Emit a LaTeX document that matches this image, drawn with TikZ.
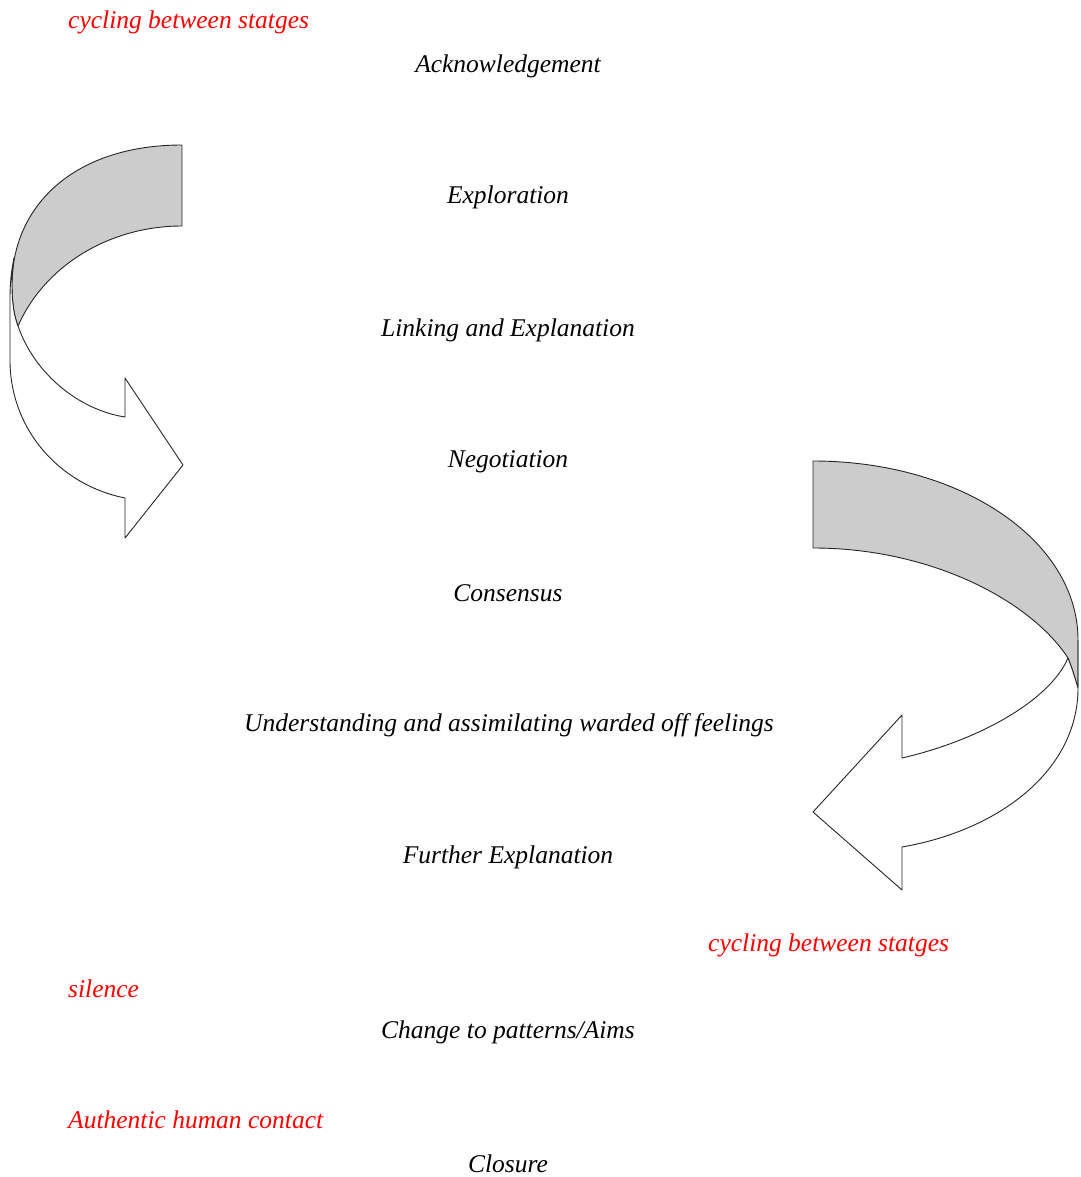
\documentclass[tikz,border=0pt]{standalone}
\usepackage{fontspec}
\setmainfont{Liberation Serif}
\usepackage{tikz}
\usetikzlibrary{positioning}

\begin{document}
\begin{tikzpicture}[x=1pt,y=-1pt,
  every node/.style={font=\fontsize{25.5}{29}\selectfont\itshape,inner sep=0pt},
  stage/.style={text=black},
  note/.style={text=red,anchor=west},
  band/.style={draw=black!85,line width=0.9pt,line join=round}]
\useasboundingbox (0,0) rectangle (1080,1177);
% stages
\node[stage] (ack) at (508,66) {Acknowledgement};
\node[stage] (exp) at (508,197) {Exploration};
\node[stage] (link) at (508,330) {Linking and Explanation};
\node[stage] (neg) at (508,462) {Negotiation};
\node[stage] (cons) at (508,593) {Consensus};
\node[stage] (und) at (509,725) {Understanding and assimilating warded off feelings};
\node[stage] (fexp) at (508,857) {Further Explanation};
\node[stage] (chg) at (508,1032) {Change to patterns/Aims};
\node[stage] (clos) at (508,1164) {Closure};
% red notes
\node[note] (cyc1) at (68,22) {cycling between statges};
\node[note] (cyc2) at (708,945) {cycling between statges};
\node[note] (sil) at (68,989) {silence};
\node[note] (auth) at (68,1120) {Authentic human contact};
% left curved arrow
\filldraw[band,fill=black!20] (182,145) .. controls (75,145) and (12,205) .. (12,285)
  .. controls (12,302) and (14,316) .. (18,326)
  .. controls (45,265) and (110,226) .. (182,226) -- cycle;
\filldraw[band,fill=white] (14,258) .. controls (11,272) and (10,285) .. (10,300)
  -- (10,360) .. controls (10,430) and (60,485) .. (125,498)
  -- (125,538) -- (183,465) -- (125,378) -- (125,417)
  .. controls (80,410) and (35,375) .. (18,326)
  .. controls (14,316) and (12,302) .. (12,285) .. controls (12,275) and (13,266) .. (14,258);
% right curved arrow
\filldraw[band,fill=black!20] (813,461) .. controls (960,461) and (1078,540) .. (1078,640)
  -- (1078,688) .. controls (1075,678) and (1072,668) .. (1068,658)
  .. controls (1030,600) and (930,548) .. (813,548) -- cycle;
\filldraw[band,fill=white] (1078,640) -- (1078,688) .. controls (1078,770) and (1000,830) .. (902,847)
  -- (902,890) -- (813,812) -- (902,715) -- (902,758)
  .. controls (980,740) and (1050,700) .. (1068,658)
  .. controls (1072,668) and (1075,678) .. (1078,688);
\end{tikzpicture}
\end{document}
